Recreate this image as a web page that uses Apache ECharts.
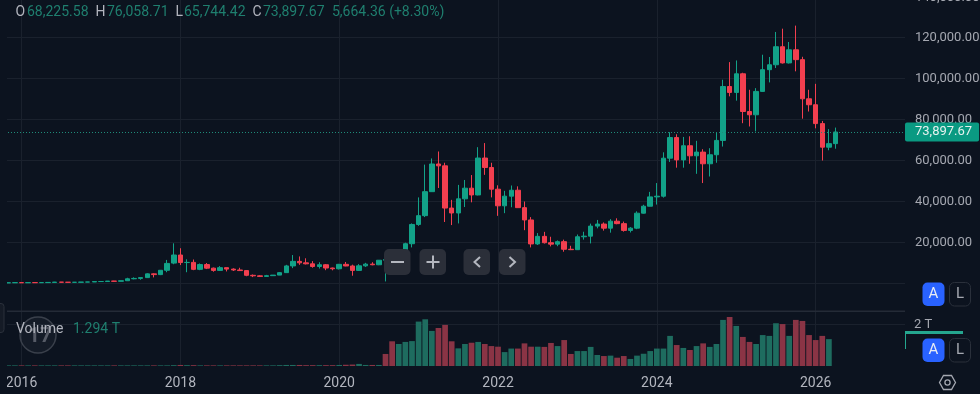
<!DOCTYPE html>
<html>
<head>
<meta charset="utf-8">
<style>html,body{margin:0;padding:0;background:#0c131f}#main{width:980px;height:394px}</style>
<script src="https://cdn.jsdelivr.net/npm/echarts@6/dist/echarts.min.js"></script>
</head>
<body>
<div id="main"></div>
<script>
// monthly candles, Nov 2015 to Apr 2026
var opens = [
	310, 378,
	430, 369, 437, 416, 448, 531, 673, 624, 575, 609, 700, 745,
	960, 965, 1190, 1080, 1350, 2300, 2480, 2870, 4700, 4340, 6450, 9950,
	13900, 10220, 10300, 6900, 9240, 7490, 6400, 7730, 7020, 6600, 6300, 4000,
	3740, 3440, 3820, 4100, 5300, 8570, 10800, 10080, 9600, 8300, 9150, 7550,
	7190, 9350, 8550, 6400, 8620, 9450, 9140, 11350, 11650, 10780, 13800, 19400,
	28800, 33100, 44800, 58300, 57400, 36800, 34400, 41300, 46500, 43200, 61200, 56600,
	46000, 37900, 42600, 45500, 37000, 31000, 19300, 23000, 19900, 19200, 20400, 16700,
	16500, 22800, 23100, 28000, 29000, 27000, 30400, 29200, 25900, 27000, 34300, 37700,
	42250, 42580, 61130, 71200, 60300, 67200, 62300, 64100, 58400, 62800, 69800, 96100,
	93200, 102300, 83900, 82300, 93700, 104300, 106700, 115500, 107600, 114000, 109200, 90100,
	87200, 78000, 66500, 68225.58
];
var closes = [
	378, 430,
	369, 437, 416, 448, 531, 673, 624, 575, 609, 700, 745, 960,
	965, 1190, 1080, 1350, 2300, 2480, 2870, 4700, 4340, 6450, 9800, 13900,
	10220, 10300, 6900, 9240, 7490, 6400, 7730, 7020, 6600, 6300, 4000, 3740,
	3440, 3820, 4100, 5300, 8570, 10800, 10080, 9600, 8300, 9150, 7550, 7190,
	9350, 8550, 6400, 8620, 9450, 9140, 11350, 11650, 10780, 13800, 19400, 28800,
	33100, 44800, 58300, 57400, 36800, 34400, 41300, 46500, 43200, 61200, 56600, 46000,
	37900, 42600, 45500, 37000, 31000, 19300, 23000, 19900, 19200, 20400, 16700, 16500,
	22800, 23100, 28000, 29000, 27000, 30400, 29200, 25900, 27000, 34300, 37700, 42250,
	42580, 61130, 71200, 60300, 67200, 62300, 64100, 58400, 62800, 69800, 96100, 93200,
	102300, 83900, 82300, 93700, 104300, 106700, 115500, 107600, 114000, 109200, 90100, 87200,
	78000, 66500, 68225.58, 73897.67
];
var lows = [
	310, 350,
	350, 362, 395, 415, 435, 525, 480, 465, 570, 605, 680, 735,
	750, 920, 890, 1060, 1340, 2050, 1830, 2700, 2970, 4100, 5500, 9400,
	9000, 5500, 6500, 6500, 7030, 5750, 6100, 5880, 6100, 6200, 3550, 3120,
	3350, 3370, 3730, 4050, 5300, 7500, 9100, 9300, 7700, 7300, 6500, 6430,
	6850, 8400, 3800, 6150, 8100, 8900, 8950, 1000, 9850, 10400, 13200, 17600,
	28100, 32400, 44800, 46600, 30000, 28500, 29300, 37300, 39600, 43000, 53000, 42000,
	33000, 34300, 37200, 37000, 26000, 17600, 18800, 19500, 18100, 18200, 15500, 16300,
	16400, 21400, 19550, 26900, 25800, 24800, 28900, 25300, 24900, 26500, 34100, 37600,
	38500, 41900, 59300, 56500, 56500, 58400, 53500, 49000, 52200, 58900, 66800, 91300,
	89200, 78200, 76600, 74200, 93400, 98100, 105100, 107300, 107300, 103500, 80400, 83900,
	75700, 60000, 65000, 65744.42
];
var highs = [
	500, 465,
	460, 448, 439, 470, 545, 780, 700, 630, 625, 725, 780, 980,
	1150, 1200, 1290, 1350, 2790, 3000, 2920, 4980, 4980, 6470, 11500, 19600,
	17200, 11800, 11700, 9760, 9990, 7780, 8480, 7760, 7400, 7680, 6540, 4380,
	4070, 4200, 4120, 5600, 9100, 13880, 13200, 12300, 10900, 10370, 9500, 7750,
	9560, 10500, 9190, 9450, 10070, 10380, 11450, 12490, 12080, 14000, 19900, 29300,
	42000, 58000, 61000, 64400, 58900, 40800, 48100, 50500, 52900, 66500, 68500, 58900,
	47900, 45200, 47800, 47400, 40000, 32400, 24600, 25200, 22800, 21000, 21400, 18400,
	23900, 25250, 29200, 31000, 29800, 31400, 31800, 30200, 27500, 35200, 38400, 44700,
	49000, 64000, 73800, 72800, 71500, 71800, 69600, 65500, 66000, 73400, 99400, 108000,
	108800, 102800, 94500, 95300, 111600, 110500, 122700, 124300, 117800, 125800, 110600, 94500,
	97400, 79300, 75300, 76058.71
];
var volumes = [
	0.03, 0.03,
	0.03, 0.03, 0.03, 0.03, 0.03, 0.03, 0.03, 0.03, 0.03, 0.03, 0.03, 0.03,
	0.03, 0.03, 0.03, 0.03, 0.03, 0.03, 0.03, 0.03, 0.03, 0.03, 0.03, 0.04,
	0.05, 0.04, 0.04, 0.03, 0.03, 0.03, 0.03, 0.03, 0.03, 0.03, 0.03, 0.03,
	0.03, 0.03, 0.03, 0.04, 0.05, 0.05, 0.05, 0.04, 0.04, 0.04, 0.04, 0.04,
	0.05, 0.06, 0.07, 0.10, 0.05, 0.05, 0.05, 0.58, 1.19, 1.06, 1.16, 1.20,
	2.14, 2.25, 1.69, 1.83, 1.98, 1.19, 0.85, 1.06, 1.12, 1.16, 1.06, 0.96,
	0.93, 0.67, 0.84, 0.84, 1.09, 0.93, 0.93, 0.92, 1.11, 0.96, 1.25, 0.58,
	0.72, 0.72, 0.92, 0.53, 0.48, 0.50, 0.40, 0.48, 0.34, 0.50, 0.59, 0.72,
	0.84, 0.84, 1.45, 1.01, 0.87, 0.77, 0.96, 1.09, 0.92, 1.06, 2.22, 2.36,
	1.93, 1.40, 1.16, 1.06, 1.49, 1.45, 2.06, 2.02, 1.45, 2.22, 2.17, 1.49,
	1.25, 1.45, 1.294, null
];
// 1 = green volume bar, 0 = red
var volumeUp = [
	1, 1,
	0, 1, 0, 1, 1, 1, 0, 0, 1, 1, 1, 1,
	1, 1, 0, 1, 1, 1, 1, 1, 0, 1, 1, 1,
	0, 1, 0, 1, 0, 0, 1, 0, 0, 0, 0, 0,
	0, 1, 1, 1, 1, 1, 0, 0, 0, 1, 0, 0,
	1, 0, 0, 1, 1, 0, 1, 0, 0, 1, 1, 1,
	1, 1, 1, 0, 0, 0, 1, 1, 0, 1, 0, 0,
	0, 1, 1, 0, 0, 0, 1, 0, 0, 1, 0, 0,
	1, 1, 1, 1, 0, 1, 0, 0, 1, 1, 1, 1,
	1, 1, 1, 0, 1, 0, 1, 0, 1, 1, 1, 0,
	1, 0, 0, 1, 1, 1, 1, 0, 1, 0, 0, 0,
	0, 0, 1, 1
];
var lastPrice = 73897.67;
var headerItems = [
	['O', '68,225.58', 15.5, 27],
	['H', '76,058.71', 95.5, 107],
	['L', '65,744.42', 175.5, 184],
	['C', '73,897.67', 252.5, 263]
];
var headerChange = '5,664.36 (+8.30%)';
var topTick = '140,000.00';
var volumeName = 'Volume';
var volumeLast = '1.294 T';
var extraMonths = 10; // empty space right of the last candle

var categories = [];
(function () {
	var y = 2015, m = 11;
	for (var i = 0; i < opens.length + extraMonths; i++) {
		categories.push(y + '-' + (m < 10 ? '0' + m : m));
		m++;
		if (m > 12) { m = 1; y++; }
	}
})();

var candleData = opens.map(function (o, i) {
	return [o, closes[i], lows[i], highs[i]];
});
var volumeData = volumes.map(function (v, i) {
	return {
		value: v,
		itemStyle: { color: volumeUp[i] ? '#1e6c5f' : '#8a3445' }
	};
});

var bg = '#0c131f';
var gridLine = '#1a212d';
var upColor = '#12a288';
var downColor = '#f23f4f';
var labelColor = '#a5a8b1';
var textTeal = '#1f7f6f';

function evenYear(index, value) {
	var p = value.split('-');
	return p[1] === '01' && parseInt(p[0]) % 2 === 0;
}

// ---- overlay bits: header, buttons, watermark
var overlay = [];
function txt(x, y, s, color, size, extra) {
	var st = { x: x, y: y, text: s, fill: color, font: (size || 14) + 'px Roboto', textVerticalAlign: 'middle' };
	if (extra) for (var k in extra) st[k] = extra[k];
	overlay.push({ type: 'text', z: 20, silent: true, style: st });
}
function box(x, y, w, h, r, fill, stroke) {
	overlay.push({
		type: 'rect', z: 15, silent: true,
		shape: { x: x, y: y, width: w, height: h, r: r },
		style: { fill: fill, stroke: stroke || null, lineWidth: 1 }
	});
}
function stroke(points, color, width) {
	overlay.push({
		type: 'polyline', z: 21, silent: true,
		shape: { points: points },
		style: { stroke: color, lineWidth: width || 2, fill: null }
	});
}

// left margin is empty in the reference, panes start at x=7
overlay.push({ type: 'rect', z: 10, silent: true, shape: { x: 0, y: 0, width: 7, height: 394 }, style: { fill: bg } });
// pane separator
overlay.push({ type: 'rect', z: 1, silent: true, shape: { x: 7, y: 310.5, width: 898, height: 1.5 }, style: { fill: '#242b37' } });

headerItems.forEach(function (h) {
	txt(h[2], 12, h[0], '#b2b5be');
	txt(h[3], 12, h[1], textTeal);
});
txt(332, 12, headerChange, textTeal);
txt(915, -2.3, topTick, labelColor, 13);

// watermark
overlay.push({ type: 'circle', z: 3, silent: true, shape: { cx: 38, cy: 335, r: 18 }, style: { fill: 'rgba(120,125,135,0.08)', stroke: '#3a404b', lineWidth: 1.5 } });
txt(28, 337, '17', '#565b66', 21, { font: 'bold 21px Roboto' });
txt(16, 329, volumeName, '#b2b5be');
txt(73, 329, volumeLast, textTeal);

// pane handle
box(-4, 303.5, 8, 29, 3, '#151b26', '#2a303b');

// zoom and scroll buttons
var btnColor = '#2b2f39', iconColor = '#b4b7bf';
[384, 419.5, 463.5, 499].forEach(function (x) { box(x, 249, 26.5, 26, 5, btnColor); });
stroke([[391, 262], [404, 262]], iconColor);
stroke([[426.5, 262], [439.5, 262]], iconColor);
stroke([[433, 255.5], [433, 268.5]], iconColor);
stroke([[480, 257], [474.5, 262], [480, 267]], iconColor);
stroke([[509.5, 257], [515, 262], [509.5, 267]], iconColor);

// A / L toggles
[282.5, 338.5].forEach(function (y) {
	box(922.5, y, 22, 23.5, 5, '#2962ff');
	txt(933.5, y + 12, 'A', '#e8ebf2', 15, { textAlign: 'center' });
	box(949.5, y, 21, 23.5, 5, bg, '#2a303b');
	txt(960, y + 12, 'L', '#a5a8b1', 15, { textAlign: 'center' });
});

// volume price marker, clipped tag
overlay.push({ type: 'rect', z: 15, silent: true, shape: { x: 905, y: 331, width: 58, height: 3 }, style: { fill: '#25a68f' } });
overlay.push({ type: 'rect', z: 15, silent: true, shape: { x: 905, y: 331, width: 1, height: 18 }, style: { fill: '#25a68f' } });

// settings icon
overlay.push({
	type: 'polygon', z: 15, silent: true,
	shape: { points: [[943.5, 375.5], [951.5, 375.5], [955.5, 382.5], [951.5, 389.5], [943.5, 389.5], [939.5, 382.5]] },
	style: { fill: null, stroke: '#a5a8b1', lineWidth: 1.3 }
});
overlay.push({ type: 'circle', z: 15, silent: true, shape: { cx: 947.5, cy: 382.5, r: 2.6 }, style: { fill: null, stroke: '#a5a8b1', lineWidth: 1.3 } });

var splitX = { show: true, interval: evenYear, alignWithLabel: true, lineStyle: { color: gridLine, width: 1 } };

var option = {
	animation: false,
	backgroundColor: bg,
	graphic: overlay,
	textStyle: { fontFamily: 'Roboto' },
	grid: [
		{ left: 5, width: 900, top: -3.5, height: 328, outerBoundsMode: 'none', containLabel: false },
		{ left: 5, width: 900, top: 314.1, height: 51.9, outerBoundsMode: 'none', containLabel: false }
	],
	xAxis: [
		{
			type: 'category', gridIndex: 0, data: categories,
			axisLine: { show: false }, axisTick: { show: false }, axisLabel: { show: false },
			splitLine: splitX
		},
		{
			type: 'category', gridIndex: 1, data: categories,
			axisLine: { show: false }, axisTick: { show: false },
			axisLabel: {
				interval: evenYear, margin: 10, color: '#b2b5be', fontSize: 14, fontFamily: 'Roboto',
				formatter: function (v) { return v.slice(0, 4); }
			},
			splitLine: splitX
		}
	],
	yAxis: [
		{
			type: 'value', gridIndex: 0, position: 'right', min: -20000, max: 140000, interval: 20000,
			axisLine: { show: false }, axisTick: { show: false },
			splitLine: { show: true, showMaxLine: false, lineStyle: { color: gridLine, width: 1 } },
			axisLabel: {
				margin: 10, color: labelColor, fontSize: 13, fontFamily: 'Roboto',
				formatter: function (v) {
					return v > 0 && v < 140000 ? v.toLocaleString('en-US', { minimumFractionDigits: 2 }) : '';
				}
			}
		},
		{
			type: 'value', gridIndex: 1, position: 'right', min: 0, max: 2.5, interval: 2,
			axisLine: { show: false }, axisTick: { show: false },
			splitLine: { show: true, showMinLine: false, showMaxLine: false, lineStyle: { color: gridLine, width: 1 } },
			axisLabel: {
				margin: 9, color: labelColor, fontSize: 13, fontFamily: 'Roboto',
				formatter: function (v) { return v === 2 ? '2 T' : ''; }
			}
		}
	],
	series: [
		{
			type: 'candlestick', xAxisIndex: 0, yAxisIndex: 0, data: candleData,
			barWidth: 5,
			itemStyle: { color: upColor, color0: downColor, borderColor: upColor, borderColor0: downColor, borderWidth: 1 },
			markLine: {
				silent: true, symbol: 'none', z: 4,
				lineStyle: { color: '#1f8b79', type: [1, 2], width: 1 },
				data: [{ yAxis: lastPrice }],
				label: {
					show: true, position: 'end', distance: 0,
					formatter: '73,897.67',
					color: '#e6f2ef', fontSize: 13, fontFamily: 'Roboto',
					backgroundColor: '#0a9a82', borderRadius: 2,
					padding: [3, 7, 3, 10], lineHeight: 13
				}
			}
		},
		{
			type: 'bar', xAxisIndex: 1, yAxisIndex: 1, data: volumeData,
			barWidth: 5.7
		}
	]
};

var chart = echarts.init(document.getElementById('main'), null, { renderer: 'canvas' });
chart.setOption(option);
window.onresize = function () { chart.resize(); };
</script>
</body>
</html>
